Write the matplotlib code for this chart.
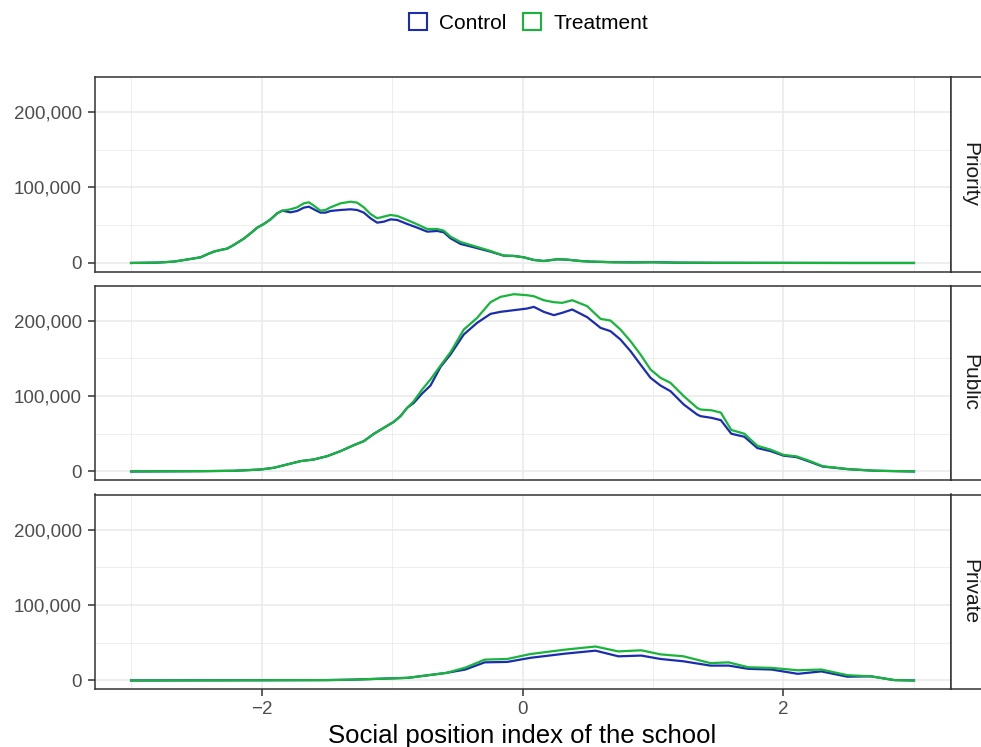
import numpy as np
import matplotlib
matplotlib.use('Agg')
import matplotlib.pyplot as plt
from matplotlib.patches import Patch
from matplotlib.ticker import FuncFormatter

plt.rcParams['font.family'] = ['Liberation Sans', 'DejaVu Sans']

#### Data (x = social position index, y = count in thousands)
groups = ['Priority', 'Public', 'Private']
series = ['Control', 'Treatment']

priority_x = [-3.0, -2.8, -2.672, -2.544, -2.467, -2.416, -2.366, -2.315, -2.264, -2.213, -2.136,
              -2.084, -2.033, -1.982, -1.931, -1.88, -1.841, -1.778, -1.727, -1.676, -1.637,
              -1.599, -1.548, -1.51, -1.471, -1.395, -1.318, -1.267, -1.216, -1.165, -1.114,
              -1.063, -1.011, -0.96, -0.884, -0.807, -0.73, -0.654, -0.603, -0.552, -0.475,
              -0.373, -0.245, -0.143, -0.066, 0.01, 0.087, 0.163, 0.266, 0.342, 0.445, 0.521,
              0.7, 0.85, 1.0, 1.2, 1.5, 2.0, 2.5, 3.0]
priority_control = [0, 0.5, 1.8, 5.3, 7.5, 11.5, 15, 17.2, 19, 23.8, 32.2,
                    39.3, 46.8, 51.7, 57.8, 65.8, 69.3, 67.1, 68.9, 73.3, 74.6,
                    71.1, 66.7, 66.7, 68.9, 70.2, 71.1, 70.2, 66.7, 59.2, 53.4,
                    54.7, 57.8, 57, 51.7, 46.8, 41.5, 42.4, 40.6, 32.7, 25.2,
                    20.8, 15, 9.7, 9.3, 7.5, 4, 2.6, 4.9, 4.4, 2.6, 1.8,
                    1, 0.8, 1, 0.4, 0.2, 0.1, 0, 0]
priority_treatment = [0, 0.5, 1.8, 5.3, 7.5, 11.5, 15, 17.2, 19, 23.8, 32.2,
                      39.3, 46.8, 51.7, 57.8, 65.8, 69.3, 71.1, 73.7, 79, 80.4,
                      75.9, 69.3, 70.2, 73.7, 79, 81.2, 79.9, 73.7, 64.9, 59.2,
                      61.4, 63.6, 62.3, 57, 51.2, 45, 45, 42.8, 34.9, 27.8,
                      22.5, 15.9, 9.7, 9.3, 7.5, 4, 2.6, 4.9, 4.4, 2.6, 1.8,
                      1, 0.8, 1, 0.4, 0.2, 0.1, 0, 0]

public_x = [-3.0, -2.467, -2.212, -2.008, -1.905, -1.803, -1.701, -1.599, -1.497, -1.395, -1.292,
            -1.216, -1.139, -1.063, -0.986, -0.935, -0.884, -0.833, -0.769, -0.705, -0.628,
            -0.552, -0.45, -0.348, -0.245, -0.169, -0.066, 0.036, 0.087, 0.163, 0.24, 0.304,
            0.381, 0.496, 0.598, 0.674, 0.751, 0.828, 0.904, 0.981, 1.057, 1.134, 1.236,
            1.338, 1.364, 1.45, 1.52, 1.6, 1.7, 1.8, 1.9, 2.0, 2.1, 2.2, 2.3, 2.5, 2.7, 3.0]
public_control = [0, 0.4, 0.9, 2.6, 4.9, 9.3, 13.7, 15.9, 20.3, 26.9, 34.9,
                  40.2, 49.9, 57.8, 65.8, 73.3, 84.3, 90.9, 103.3, 113.9, 138.6,
                  155, 181.5, 196.9, 208.8, 211.5, 213.7, 215.9, 218.1, 211.5, 207.1, 210.2,
                  214.6, 204.4, 190.3, 185.9, 174.8, 159.4, 141.7, 124.1, 113.9, 106.4, 88.7,
                  75.5, 73.3, 71, 68, 50, 46, 31, 27, 21, 19, 13, 6.5, 3, 1, 0]
public_treatment = [0, 0.4, 0.9, 2.6, 4.9, 9.3, 13.7, 15.9, 20.3, 26.9, 34.9,
                    40.2, 49.9, 57.8, 65.8, 73.3, 84.3, 93.2, 108.6, 121.9, 140.4,
                    158, 188, 203.5, 224.3, 231.3, 234.9, 233.5, 232.2, 226.9, 224.3, 223.4,
                    226.9, 219, 202.2, 200, 188, 172.6, 155, 135.1, 124.1, 117.4, 99.8,
                    84.3, 82.1, 81, 78, 55, 50, 34, 29, 22, 20, 14, 7, 3, 1, 0]

private_x = [-3.0, -2.0, -1.5, -1.32, -0.878, -0.585, -0.438, -0.29, -0.116, 0.06, 0.324, 0.559,
             0.735, 0.91, 1.057, 1.234, 1.44, 1.58, 1.73, 1.908, 2.11, 2.29, 2.49, 2.67, 2.85, 3.0]
private_control = [0, 0.3, 0.5, 1, 3.5, 10, 14.5, 24, 24.6, 30, 35.5, 39.5,
                   32, 33, 28.5, 25.4, 19.7, 19.7, 15.4, 14.5, 8.8, 12, 5, 5.5, 0.5, 0]
private_treatment = [0, 0.3, 0.5, 1, 3.5, 10, 17, 27.6, 28.5, 35, 40.8, 45,
                     38.5, 40, 34.6, 32, 23, 24, 17.5, 16.7, 13.5, 14.5, 7, 5.5, 0.5, 0]

x_ticks = [-2, 0, 2]
x_tick_labels = ['\u22122', '0', '2']
x_minor = [-3, -1, 1, 3]
y_ticks = [0, 100000, 200000]
y_minor = [50000, 150000]

data = {
    'Priority': (priority_x, priority_control, priority_treatment),
    'Public': (public_x, public_control, public_treatment),
    'Private': (private_x, private_control, private_treatment),
}
colors = {'Control': '#1A2DB0', 'Treatment': '#17B53A'}

#### Layout (pixels -> figure fractions)
W, H = 981, 747
fig = plt.figure(figsize=(W / 100, H / 100), dpi=100)
left, right = 94.5 / W, 950.5 / W
tops = [77, 285.5, 494.5]
panel_h = 194.5

border = '#333333'
for i, g in enumerate(groups):
    bottom = 1 - (tops[i] + panel_h) / H
    ax = fig.add_axes([left, bottom, right - left, panel_h / H])
    xs, yc, yt = data[g]
    ax.plot(xs, np.array(yc) * 1000, color=colors['Control'], lw=1.6, zorder=3,
            solid_joinstyle='round')
    ax.plot(xs, np.array(yt) * 1000, color=colors['Treatment'], lw=1.6, zorder=4,
            solid_joinstyle='round')
    ax.set_xlim(-3.28, 3.28)
    ax.set_ylim(-11300, 246400)
    ax.set_xticks(x_ticks)
    ax.set_xticks(x_minor, minor=True)
    ax.set_yticks(y_ticks)
    ax.set_yticks(y_minor, minor=True)
    ax.yaxis.set_major_formatter(FuncFormatter(lambda v, p: f'{int(v):,}'))
    ax.grid(which='major', color='#EBEBEB', lw=1.2)
    ax.grid(which='minor', color='#EBEBEB', lw=0.6)
    ax.set_axisbelow(True)
    for s in ax.spines.values():
        s.set_color(border)
        s.set_linewidth(1.1)
    ax.tick_params(axis='y', which='major', length=5, width=1.1, color=border,
                   labelsize=13.5, labelcolor='#4D4D4D', pad=4)
    ax.tick_params(which='minor', length=0)
    if i < 2:
        ax.tick_params(axis='x', which='major', length=0, labelbottom=False)
    else:
        ax.tick_params(axis='x', which='major', length=5, width=1.1, color=border,
                       labelsize=13.5, labelcolor='#4D4D4D', pad=4)
        ax.set_xticklabels(x_tick_labels)

    #### Strip on the right
    sax = fig.add_axes([right, bottom, 39 / W, panel_h / H])
    sax.set_xticks([])
    sax.set_yticks([])
    sax.patch.set_facecolor('white')
    for s in sax.spines.values():
        s.set_color(border)
        s.set_linewidth(1.1)
    sax.text(0.5, 0.5, g, rotation=-90, ha='center', va='center', fontsize=15,
             color='#1A1A1A', transform=sax.transAxes)

#### Axis title
fig.text((left + right) / 2, 1 - 736 / H, 'Social position index of the school',
         ha='center', va='center', fontsize=18.5, color='black')

#### Legend
handles = [Patch(facecolor='white', edgecolor=colors[s], linewidth=1.5, label=s) for s in series]
fig.legend(handles=handles, loc='center', bbox_to_anchor=(0.539, 1 - 23 / H), ncol=2,
           frameon=False, fontsize=15, handlelength=0.85, handleheight=0.85,
           handletextpad=0.6, columnspacing=0.8)

plt.savefig('out.png', dpi=100)
